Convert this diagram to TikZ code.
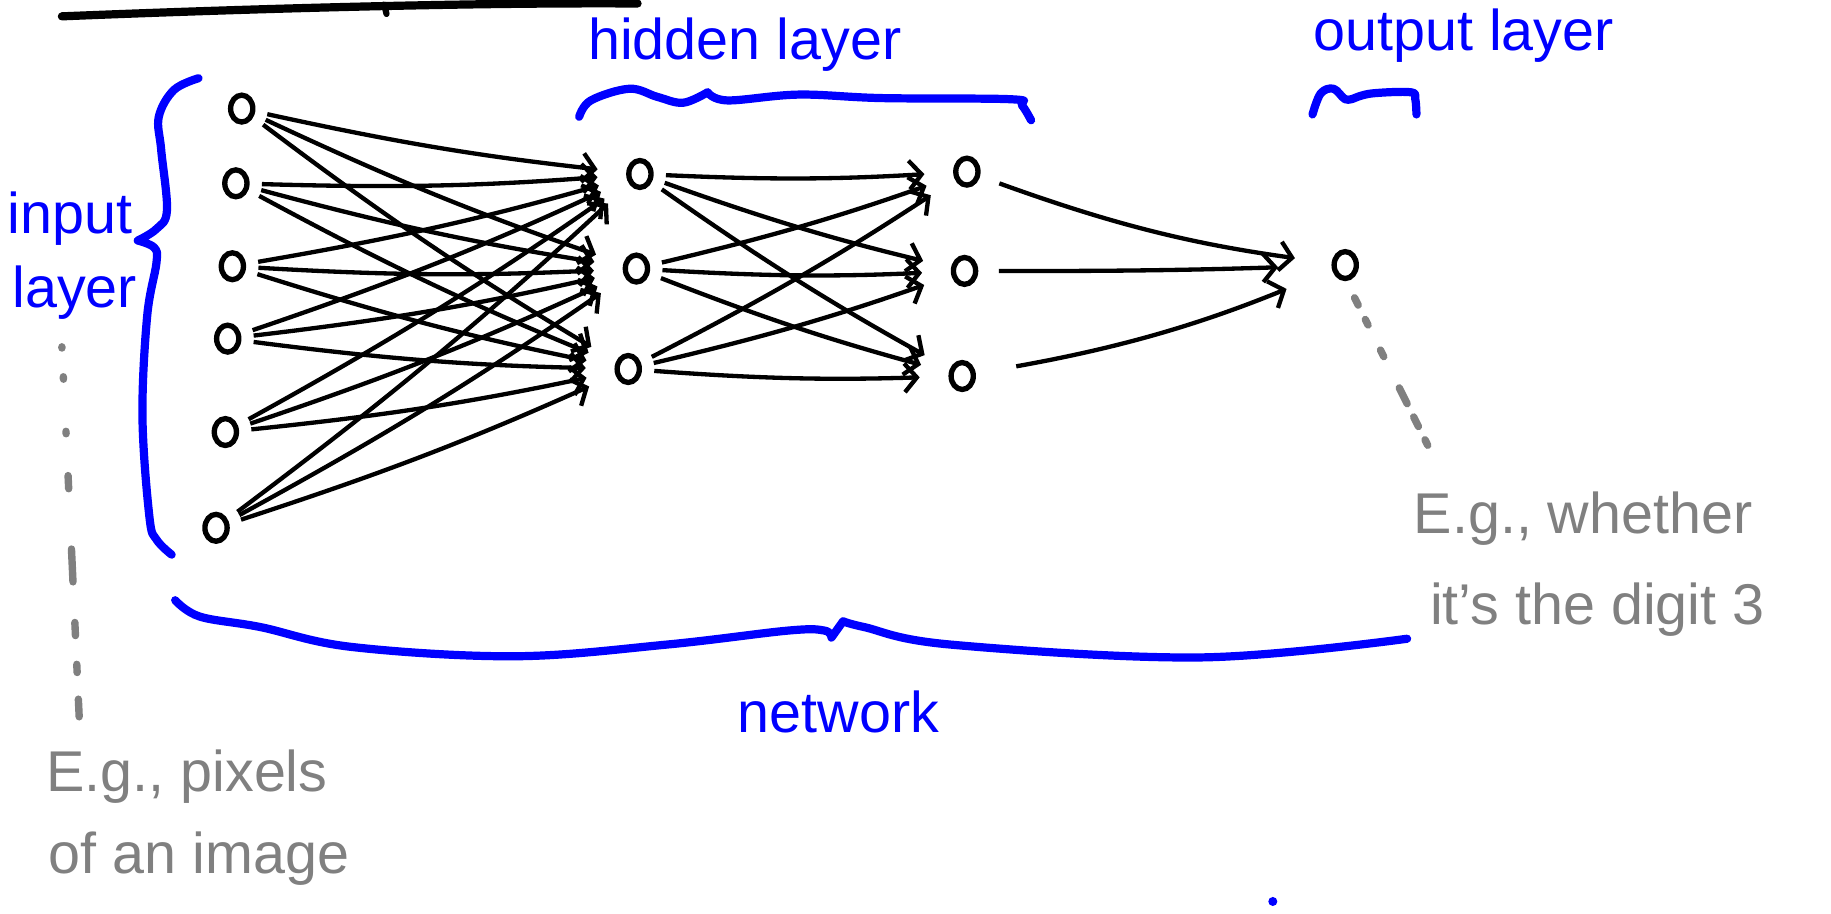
\documentclass[tikz,border=0pt]{standalone}
\usepackage{fontspec}
\setmainfont{Liberation Sans}
\usetikzlibrary{arrows.meta, shapes.geometric}

\begin{document}
\begin{tikzpicture}[
        x=0.01cm, y=-0.01cm,
        neuron/.style={draw, ellipse, line width=1.3pt, minimum width=0.19cm, minimum height=0.23cm, inner sep=0pt},
        wire/.style={-{Straight Barb[length=3pt,width=7pt]}, line width=1.05pt, shorten <=3pt, shorten >=7pt},
        markup/.style={blue, line width=2pt, line cap=round, line join=round},
        hint/.style={gray, line width=1.8pt, line cap=round},
        lbl/.style={text=blue, font=\fontsize{14}{16}\selectfont, anchor=base west, inner sep=0pt},
        note/.style={text=gray, font=\fontsize{14}{16}\selectfont, anchor=base west, inner sep=0pt}
    ]
    \useasboundingbox (0,0) rectangle (1568,782);

    % stroke left over at the top edge
    \draw[line width=2pt, line cap=round] (53,14) .. controls (200,8) and (400,2) .. (546,3);
    \draw[line width=1.5pt, line cap=round] (329,4) -- (331,12);

    % Layers
    \node[neuron] (i1) at (207,93) {};
    \node[neuron] (i2) at (202,157) {};
    \node[neuron] (i3) at (199,228) {};
    \node[neuron] (i4) at (195,290) {};
    \node[neuron] (i5) at (193,370) {};
    \node[neuron] (i6) at (185,452) {};

    \node[neuron] (h1) at (548,149) {};
    \node[neuron] (h2) at (545,230) {};
    \node[neuron] (h3) at (538,316) {};

    \node[neuron] (g1) at (828,147) {};
    \node[neuron] (g2) at (826,232) {};
    \node[neuron] (g3) at (824,322) {};

    \node[neuron] (o) at (1152,227) {};

    % Weights
    \foreach \a in {1,...,6}
        \foreach \b in {1,2,3}
            \draw[wire] (i\a) to[bend right=3] (h\b);
    \foreach \a in {1,2,3}
        \foreach \b in {1,2,3}
            \draw[wire] (h\a) to[bend right=3] (g\b);
    \draw[wire, shorten <=5pt, shorten >=9pt] (g1) to[bend right=6] (o);
    \draw[wire, shorten <=5pt, shorten >=13pt] (g2) to[bend right=1] (o);
    \draw[wire, shorten <=10pt, shorten >=12pt] (g3) to[bend right=6] (o);

    % Braces
    \draw[markup] plot[smooth, tension=0.6] coordinates {(170,67) (149,77) (136,100) (138,128) (143,180) (134,196) (118,206)}
        -- plot[smooth, tension=0.6] coordinates {(118,206) (132,212) (134,225) (126,271) (122,357) (128,443) (134,462) (147,475)};
    \draw[markup] plot[smooth, tension=0.6] coordinates {(496,100) (506,86) (539,76) (563,83) (585,88) (606,79)}
        -- plot[smooth, tension=0.6] coordinates {(606,79) (623,86) (684,81) (755,84) (866,85) (875,90) (883,103)};
    \draw[markup] plot[smooth, tension=0.6] coordinates {(1124,98) (1131,80) (1142,76) (1152,85) (1160,84)}
        -- plot[smooth, tension=0.6] coordinates {(1160,84) (1175,80) (1208,79) (1212,85) (1213,98)};
    \draw[markup] plot[smooth, tension=0.6] coordinates {(150,514) (171,528) (223,537) (301,554) (441,562) (571,552) (675,540) (706,540) (712,546)}
        -- plot[smooth, tension=0.6] coordinates {(722,532) (740,537) (814,552) (1028,563) (1205,547)};

    % Labels
    \node[lbl] (inlbl) at (6,200) {input};
    \node[lbl] (inlbl2) at (10,263) {layer};
    \node[lbl] (hidlbl) at (503,51) {hidden layer};
    \node[lbl] (outlbl) at (1124,43) {output layer};
    \node[lbl] (netlbl) at (631,627) {network};

    \node[note] (pixlbl) at (39,678) {E.g., pixels};
    \node[note] (pixlbl2) at (41,748) {of an image};
    \node[note] (diglbl) at (1210,457) {E.g., whether};
    \node[note] (diglbl2) at (1224,535) {it's the digit 3};

    % Dotted hints
    \coordinate (pixtop) at (53,297);
    \coordinate (pixbot) at (68,618);
    \draw[hint, dash pattern=on 0.3pt off 7pt on 0.6pt off 12.7pt on 0.6pt off 10.2pt on 3.2pt off 14.7pt on 8pt off 9.9pt on 3.2pt off 7pt on 2pt off 6.5pt on 4.3pt off 20pt]
        (pixtop) .. controls (58,400) .. (pixbot);
    \coordinate (digtop) at (1160,255);
    \coordinate (digbot) at (1224,384);
    \draw[hint, dash pattern=on 2pt off 3.9pt on 1.5pt off 6.8pt on 1.8pt off 8.5pt on 4.3pt off 3.6pt on 2.6pt off 3.6pt on 1.5pt off 20pt]
        (digtop) -- (digbot);

    \fill[blue] (1090,772) circle (1.1pt);
\end{tikzpicture}
\end{document}
